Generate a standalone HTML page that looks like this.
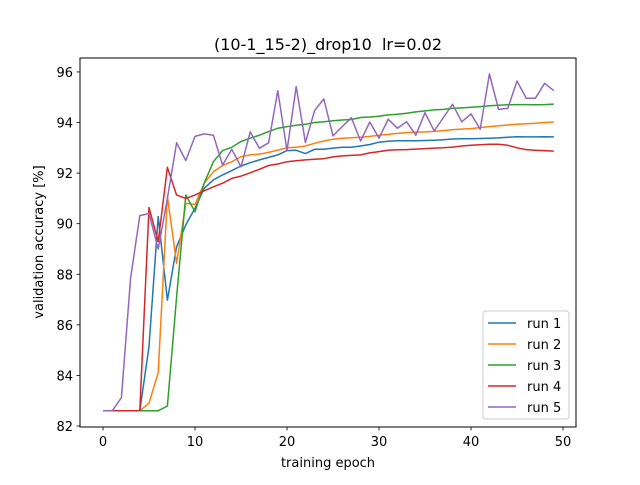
<!DOCTYPE html>
<html><head><meta charset="utf-8"><style>
body{margin:0;background:#fff;}
svg text{font-family:"DejaVu Sans","Liberation Sans",sans-serif;fill:#000;}
</style></head><body>
<svg id="chart" width="640" height="480" viewBox="0 0 640 480" xmlns="http://www.w3.org/2000/svg">
<rect width="640" height="480" fill="#fff"/>
<text x="328" y="50" font-size="16" text-anchor="middle" style="white-space:pre">(10-1_15-2)_drop10  lr=0.02</text>
<g id="series"></g>
<rect x="80" y="58" width="496" height="369" fill="none" stroke="#000" stroke-width="1"/>
<g id="xt"></g>
<g id="yt"></g>
<text x="328" y="467" font-size="13" text-anchor="middle">training epoch</text>
<text transform="translate(43,242) rotate(-90)" font-size="13" text-anchor="middle">validation accuracy [%]</text>
<g id="legend"></g>
</svg>
<script>
const xTicks=[0,10,20,30,40,50];
const yTicks=[82,84,86,88,90,92,94,96];
const seriesNames=["run 1","run 2","run 3","run 4","run 5"];
const seriesColors=["#1f77b4","#ff7f0e","#2ca02c","#d62728","#9467bd"];
const run1=[82.6,82.6,82.6,82.6,82.6,85.14,90.28,86.98,89.09,89.95,90.61,91.4,91.73,91.93,92.1,92.28,92.41,92.52,92.62,92.72,92.89,92.9,92.77,92.94,92.94,92.99,93.02,93.02,93.07,93.13,93.22,93.26,93.28,93.28,93.28,93.29,93.3,93.32,93.35,93.36,93.36,93.37,93.38,93.39,93.42,93.44,93.43,93.43,93.44,93.43];
const run2=[82.6,82.6,82.6,82.6,82.6,82.9,84.11,91.07,88.43,90.8,90.76,91.6,92.05,92.3,92.45,92.65,92.72,92.75,92.82,92.91,93.0,93.02,93.07,93.18,93.27,93.34,93.38,93.4,93.42,93.45,93.5,93.53,93.57,93.6,93.62,93.63,93.65,93.68,93.72,93.74,93.76,93.8,93.84,93.87,93.9,93.93,93.95,93.97,94.0,94.02];
const run3=[82.6,82.6,82.6,82.6,82.6,82.6,82.6,82.79,87.1,91.13,90.47,91.6,92.45,92.89,93.02,93.25,93.38,93.5,93.64,93.77,93.84,93.89,93.93,94.0,94.03,94.07,94.1,94.12,94.2,94.22,94.25,94.3,94.33,94.37,94.42,94.46,94.5,94.52,94.56,94.58,94.6,94.63,94.66,94.68,94.7,94.71,94.71,94.7,94.71,94.73];
const run4=[82.6,82.6,82.6,82.6,82.6,90.64,89.29,92.23,91.13,91.0,91.13,91.3,91.46,91.6,91.79,91.88,92.01,92.15,92.3,92.36,92.45,92.49,92.52,92.55,92.57,92.64,92.68,92.7,92.72,92.8,92.85,92.9,92.92,92.93,92.95,92.97,92.99,93.0,93.03,93.07,93.1,93.12,93.14,93.14,93.1,93.0,92.93,92.9,92.89,92.87];
const run5=[82.6,82.6,83.12,87.85,90.32,90.4,89.0,91.0,93.2,92.5,93.45,93.55,93.5,92.32,92.94,92.25,93.63,92.98,93.2,95.26,92.89,95.42,93.21,94.47,94.93,93.47,93.84,94.19,93.27,94.02,93.38,94.13,93.77,94.03,93.5,94.39,93.67,94.2,94.72,94.03,94.34,93.73,95.92,94.52,94.56,95.64,94.96,94.96,95.55,95.26];
const allRuns=[run1,run2,run3,run4,run5];
const NS="http://www.w3.org/2000/svg";
function sx(v){return 103+(v)*9.2;}
function sy(v){return 426-(v-82)*25.29;}
function mk(tag,attrs,parent){const e=document.createElementNS(NS,tag);for(const k in attrs)e.setAttribute(k,attrs[k]);parent.appendChild(e);return e;}
const xt=document.getElementById('xt'),yt=document.getElementById('yt');
xTicks.forEach(t=>{
 const l=mk('line',{x1:sx(t),x2:sx(t),y1:427,y2:430.5,stroke:'#000','stroke-width':0.8},xt);
 
 
 const tx=mk('text',{x:sx(t),y:446,'font-size':13,'text-anchor':'middle'},xt);
 tx.textContent=t;
 
 
});
yTicks.forEach(t=>{
 const l=mk('line',{x1:76.5,x2:80,y1:sy(t),y2:sy(t),stroke:'#000','stroke-width':0.8},yt);
 
 
 const tx=mk('text',{x:73,y:sy(t)+5,'font-size':13,'text-anchor':'end'},yt);
 tx.textContent=t;
 
 
});
const sg=document.getElementById('series');
allRuns.forEach((r,i)=>{
 const pts=r.map((v,j)=>sx(j).toFixed(1)+','+sy(v).toFixed(1)).join(' ');
 const p=mk('polyline',{points:pts,fill:'none',stroke:seriesColors[i],'stroke-width':1.5,'stroke-linejoin':'round'},sg);
 
 
});
const lg=document.getElementById('legend');
const box=mk('rect',{x:483,y:311,width:86,height:108,rx:3,fill:'#fff','fill-opacity':0.8,stroke:'#ccc'},lg);


seriesNames.forEach((n,i)=>{
 const y=323+i*21;
 const g=mk('g',{},lg);
 
 
 mk('line',{x1:488,x2:516,y1:y,y2:y,stroke:seriesColors[i],'stroke-width':1.5},g);
 const t=mk('text',{x:527,y:y+5,'font-size':13},g);
 t.textContent=n;
});
</script>
</body></html>
